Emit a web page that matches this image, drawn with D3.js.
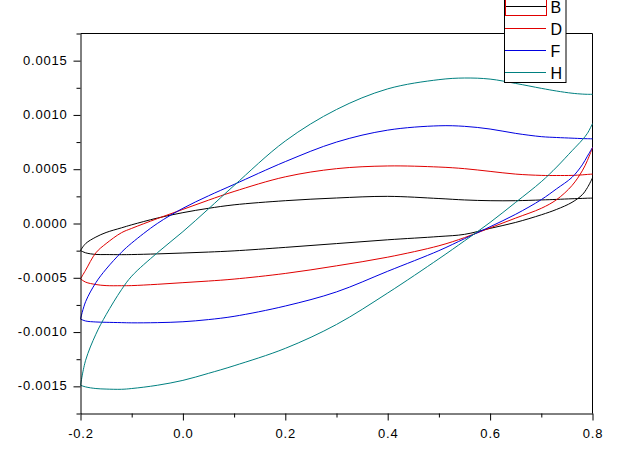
<!DOCTYPE html>
<html>
<head>
<meta charset="utf-8">
<script src="https://cdn.jsdelivr.net/npm/d3@7"></script>
<style>
  html, body { margin: 0; padding: 0; background: #fff; }
  svg { display: block; }
  .tick text { font-family: "Liberation Sans", Arial, sans-serif; font-size: 13px; letter-spacing: 0.8px; fill: #000; }
</style>
</head>
<body>
<svg id="chart" width="619" height="450"></svg>
<script>
// ---- data (values in units of 1e-4) ----
const UNIT = 1e-4;
const xGrid = [-0.2,-0.19,-0.17,-0.15,-0.12,-0.1,-0.05,0,0.05,0.1,0.2,0.3,0.4,0.5,0.55,0.6,0.65,0.7,0.73,0.76,0.78,0.79,0.8];

const B_upper = [-2.49,-1.85,-1.25,-0.83,-0.4,-0.12,0.5,1.0,1.4,1.72,2.1,2.35,2.5,2.3,2.17,2.1,2.1,2.17,2.22,2.28,2.31,2.33,2.34];
const B_lower = [-2.49,-2.7,-2.85,-2.86,-2.87,-2.86,-2.8,-2.72,-2.63,-2.52,-2.2,-1.85,-1.5,-1.2,-1.0,-0.45,0.1,0.8,1.3,1.95,2.65,3.3,4.2];
const D_upper = [-5.1,-4.3,-2.7,-1.85,-0.85,-0.45,0.45,1.3,2.15,2.95,4.3,5.05,5.3,5.2,5.05,4.8,4.55,4.43,4.42,4.43,4.48,4.52,4.55];
const D_lower = [-5.1,-5.4,-5.62,-5.72,-5.73,-5.72,-5.6,-5.45,-5.3,-5.12,-4.6,-3.9,-3.1,-2.05,-1.3,-0.4,0.5,1.4,2.2,3.5,4.85,5.8,7.0];
const F_upper = [-8.8,-7.2,-5.45,-4.2,-2.65,-1.8,0.0,1.4,2.55,3.6,5.7,7.5,8.6,9.0,8.95,8.7,8.3,8.0,7.92,7.86,7.82,7.81,7.8];
const F_lower = [-8.8,-8.98,-9.07,-9.1,-9.13,-9.15,-9.13,-9.05,-8.85,-8.55,-7.6,-6.3,-4.4,-2.5,-1.4,-0.3,0.85,2.2,3.2,4.25,5.4,6.2,7.0];
const H_upper = [-14.9,-12.6,-10.2,-8.4,-6.1,-4.85,-2.7,-0.75,1.35,3.5,7.6,10.5,12.4,13.25,13.4,13.3,12.9,12.45,12.2,12.0,11.92,11.9,11.9];
const H_lower = [-14.9,-15.05,-15.2,-15.25,-15.27,-15.2,-14.9,-14.45,-13.8,-13.1,-11.5,-9.3,-6.4,-3.25,-1.6,0.1,1.95,3.85,5.2,6.7,7.7,8.3,9.2];

const seriesNames = ["B","D","F","H"];
const seriesColors = ["#000000","#e00000","#0000e0","#008080"];
const seriesBranches = [[B_upper,B_lower],[D_upper,D_lower],[F_upper,F_lower],[H_upper,H_lower]];

const xTicks = [-0.2,0.0,0.2,0.4,0.6,0.8];
const xMinor = [-0.1,0.1,0.3,0.5,0.7];
const yTicks = [-0.0015,-0.0010,-0.0005,0.0,0.0005,0.0010,0.0015];
const yMinor = [-0.00175,-0.00125,-0.00075,-0.00025,0.00025,0.00075,0.00125,0.00175];

// ---- layout ----
const svg = d3.select("#chart");
const L = 80.5, R = 592.5, T = 33.5, Bt = 413.5;
const x = d3.scaleLinear().domain([-0.2, 0.8]).range([L, R]);
const y = d3.scaleLinear().domain([-0.00175, 0.00175]).range([Bt, T]);

// frame (top & right)
svg.append("path")
  .attr("d", `M${L},${T}H${R}V${Bt}`)
  .attr("fill","none").attr("stroke","#000").attr("stroke-width",1);

// curves
const line = d3.line()
  .x((d,i) => x(xGrid[i]))
  .y(d => y(d * UNIT))
  .curve(d3.curveCatmullRom.alpha(0.5));

const gCurves = svg.append("g");
seriesBranches.forEach((br, si) => {
  br.forEach(vals => {
    gCurves.append("path")
      .attr("d", line(vals))
      .attr("fill","none")
      .attr("stroke", seriesColors[si])
      .attr("stroke-width", 1);
  });
});

// axes
const xAxis = svg.append("g").attr("transform", `translate(0,${Bt})`)
  .call(d3.axisBottom(x).tickValues(xTicks).tickSize(7).tickSizeOuter(0)
        .tickFormat(d => d.toFixed(1)));
xAxis.selectAll(".tick text").attr("y", 15.5);
svg.append("g").attr("transform", `translate(0,${Bt})`)
  .call(d3.axisBottom(x).tickValues(xMinor).tickSize(4).tickSizeOuter(0).tickFormat(""))
  .select(".domain").remove();

const yAxis = svg.append("g").attr("transform", `translate(${L},0)`)
  .call(d3.axisLeft(y).tickValues(yTicks).tickSize(7).tickPadding(6).tickSizeOuter(0)
        .tickFormat(d => (Math.abs(d) < 1e-12 ? 0 : d).toFixed(4)));
yAxis.selectAll(".tick text").attr("dy", "0.28em");
svg.append("g").attr("transform", `translate(${L},0)`)
  .call(d3.axisLeft(y).tickValues(yMinor).tickSize(4).tickSizeOuter(0).tickFormat(""))
  .select(".domain").remove();

svg.selectAll(".domain").attr("stroke","#000");
svg.selectAll(".tick line").attr("stroke","#000");

// legend
const lg = svg.append("g");
lg.append("rect").attr("x", 504.5).attr("y", -20).attr("width", 61.5).attr("height", 102.5)
  .attr("fill","#fff").attr("stroke","#000").attr("stroke-width",1);
const legendY = [6.5, 28.5, 50.5, 72.5];
seriesNames.forEach((n, i) => {
  lg.append("line").attr("x1", 505).attr("x2", 546).attr("y1", legendY[i]).attr("y2", legendY[i])
    .attr("stroke", seriesColors[i]).attr("stroke-width", 1);
  lg.append("text").attr("x", 550.5).attr("y", legendY[i] + 6)
    .attr("font-family", "Liberation Sans, Arial, sans-serif").attr("font-size", 16)
    .attr("fill", "#000").text(n);
});
// selection highlight around first entry
lg.append("rect").attr("x", 505.5).attr("y", -6).attr("width", 41).attr("height", 21.5)
  .attr("fill","none").attr("stroke","#e00000").attr("stroke-width",1);
</script>
</body>
</html>
